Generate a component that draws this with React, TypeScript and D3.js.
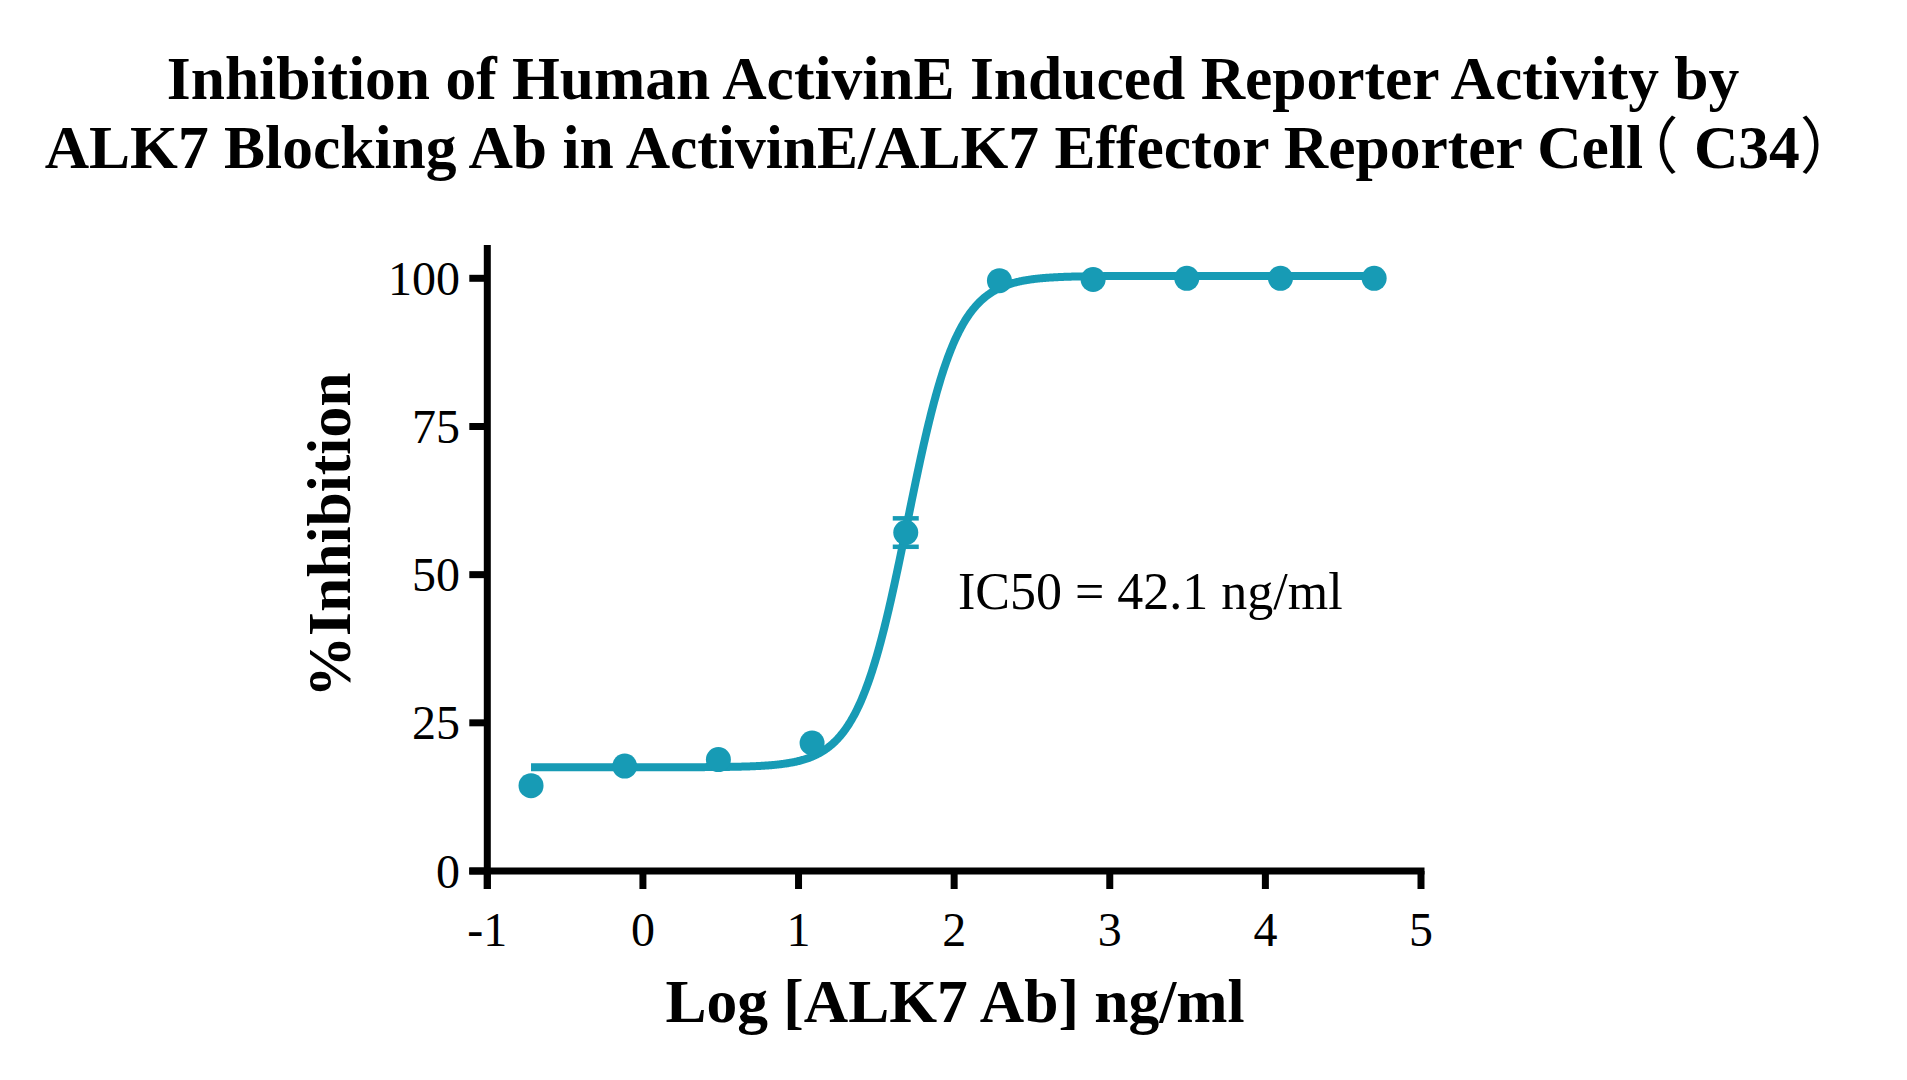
import React, { useEffect } from "react";
import * as d3 from "d3";

// ---- data ----
const titleLine1 = "Inhibition of Human ActivinE Induced Reporter Activity by";
const titleLine2Parts = ["ALK7 Blocking Ab in ActivinE/ALK7 Effector Reporter Cell", "（", " C34", "）"];
const xLabel = "Log [ALK7 Ab] ng/ml";
const yLabel = "%Inhibition";
const annotation = "IC50 = 42.1 ng/ml";

const logConc = [-0.719, -0.117, 0.485, 1.087, 1.689, 2.291, 2.893, 3.495, 4.097, 4.699];
const inhibition = [14.4, 17.7, 18.8, 21.6, 57.1, 99.6, 99.8, 100.0, 100.0, 100.0];
const errors = [0, 0, 0, 0, 2.4, 0, 0, 0, 0, 0];

const xTicks = [-1, 0, 1, 2, 3, 4, 5];
const yTicks = [0, 25, 50, 75, 100];

// fitted 4PL parameters
const fitBottom = 17.5;
const fitTop = 100.4;
const fitMid = 1.7;
const fitHill = 2.7;

const W = 1907;
const H = 1080;
const COLOR = "#179bb5";
const SERIF = "'Liberation Serif', 'Times New Roman', 'Noto Sans CJK SC', serif";
const CJK = "'Noto Sans CJK SC', sans-serif";
const BOLD_SIZE = 61.5;

export default function App() {
  useEffect(() => {
    document.body.style.margin = "0";
    document.documentElement.style.overflow = "hidden";
  }, []);

  const x = d3.scaleLinear().domain([-1, 5]).range([487.3, 1421]);
  const y = d3.scaleLinear().domain([0, 100]).range([871, 278.3]);

  const fit = (lx: number) =>
    fitBottom + (fitTop - fitBottom) / (1 + Math.pow(10, (fitMid - lx) * fitHill));

  const x0 = logConc[0];
  const x1 = logConc[logConc.length - 1];
  const samples = d3.range(x0, x1, 0.005).concat([x1]);
  const line = d3
    .line<number>()
    .x((d) => x(d))
    .y((d) => y(fit(d)));

  const axisW = 7;
  const tickLen = 18;
  const yAxisTop = 245;
  const yAxisBottom = y(0) + tickLen;
  const xAxisLeft = x(-1) - tickLen;

  return (
    <svg
      width={W}
      height={H}
      style={{ position: "absolute", left: 0, top: 0, background: "#fff" }}
      fontFamily={SERIF}
    >
      <rect x={0} y={0} width={W} height={H} fill="#fff" />
      {/* title */}
      <text x={953} y={99} textAnchor="middle" fontSize={BOLD_SIZE} fontWeight="bold" fill="#000">
        {titleLine1}
      </text>
      <text x={953} y={168} textAnchor="middle" fontSize={BOLD_SIZE} fontWeight="bold" fill="#000">
        <tspan>{titleLine2Parts[0]}</tspan>
        <tspan dx={-26} fontWeight="normal" fontFamily={CJK}>
          {titleLine2Parts[1]}
        </tspan>
        <tspan>{titleLine2Parts[2]}</tspan>
        <tspan fontWeight="normal" fontFamily={CJK}>
          {titleLine2Parts[3]}
        </tspan>
      </text>

      {/* y axis */}
      <line
        x1={x(-1)}
        x2={x(-1)}
        y1={yAxisTop}
        y2={yAxisBottom}
        stroke="#000"
        strokeWidth={axisW}
      />
      {yTicks.map((t) => (
        <g key={"y" + t}>
          <line
            x1={xAxisLeft}
            x2={x(-1)}
            y1={y(t)}
            y2={y(t)}
            stroke="#000"
            strokeWidth={axisW}
          />
          <text x={460} y={y(t) + 16.5} textAnchor="end" fontSize={48} fill="#000">
            {t}
          </text>
        </g>
      ))}

      {/* x axis */}
      <line
        x1={xAxisLeft}
        x2={x(5) + axisW / 2}
        y1={y(0)}
        y2={y(0)}
        stroke="#000"
        strokeWidth={axisW}
      />
      {xTicks.map((t) => (
        <g key={"x" + t}>
          <line
            x1={x(t)}
            x2={x(t)}
            y1={y(0)}
            y2={y(0) + tickLen}
            stroke="#000"
            strokeWidth={axisW}
          />
          <text x={x(t)} y={946} textAnchor="middle" fontSize={48} fill="#000">
            {t}
          </text>
        </g>
      ))}

      {/* axis titles */}
      <text x={955} y={1022} textAnchor="middle" fontSize={BOLD_SIZE} fontWeight="bold" fill="#000">
        {xLabel}
      </text>
      <text
        transform="translate(350,535) rotate(-90)"
        textAnchor="middle"
        fontSize={BOLD_SIZE}
        fontWeight="bold"
        fill="#000"
      >
        {yLabel}
      </text>

      {/* fitted curve */}
      <path d={line(samples) || ""} fill="none" stroke={COLOR} strokeWidth={8} />

      {/* error bars */}
      {logConc.map((lx, i) =>
        errors[i] > 0 ? (
          <g key={"e" + i} stroke={COLOR} strokeWidth={4.5}>
            <line x1={x(lx)} x2={x(lx)} y1={y(inhibition[i] - errors[i])} y2={y(inhibition[i] + errors[i])} />
            <line x1={x(lx) - 13} x2={x(lx) + 13} y1={y(inhibition[i] + errors[i])} y2={y(inhibition[i] + errors[i])} />
            <line x1={x(lx) - 13} x2={x(lx) + 13} y1={y(inhibition[i] - errors[i])} y2={y(inhibition[i] - errors[i])} />
          </g>
        ) : null
      )}

      {/* points */}
      {logConc.map((lx, i) => (
        <circle key={"p" + i} cx={x(lx)} cy={y(inhibition[i])} r={12.5} fill={COLOR} />
      ))}

      {/* annotation */}
      <text x={958} y={609} fontSize={52} fill="#000">
        {annotation}
      </text>
    </svg>
  );
}
